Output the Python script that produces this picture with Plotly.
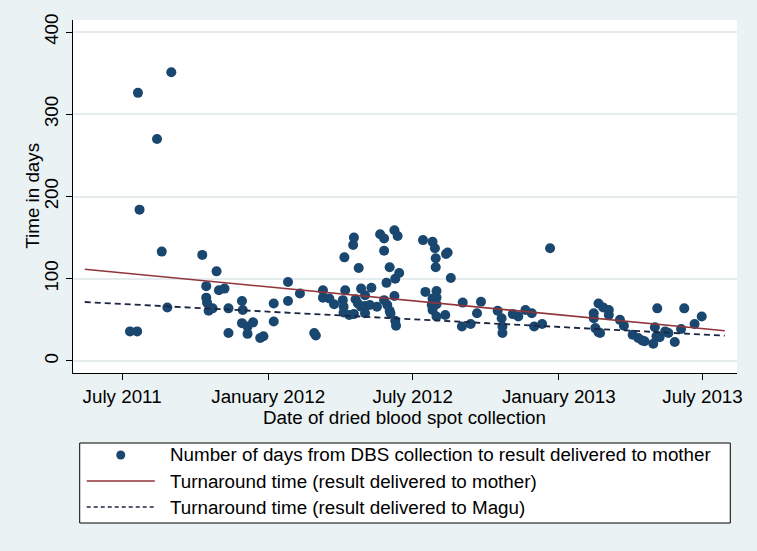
import plotly.graph_objects as go

# ---- data ----
collection_dates = [
    "2011-07-11", "2011-07-20", "2011-07-21", "2011-07-23", "2011-08-14", "2011-08-20",
    "2011-08-27", "2011-09-01", "2011-10-10", "2011-10-15", "2011-10-15", "2011-10-16",
    "2011-10-18", "2011-10-23", "2011-10-28", "2011-10-31", "2011-11-07", "2011-11-12",
    "2011-11-12", "2011-11-29", "2011-11-30", "2011-11-29", "2011-12-06", "2011-12-06",
    "2011-12-13", "2011-12-22", "2011-12-26", "2012-01-08", "2012-01-08", "2012-01-26",
    "2012-01-26", "2012-02-10", "2012-02-28", "2012-03-01", "2012-03-10", "2012-03-10",
    "2012-03-18", "2012-03-24", "2012-04-06", "2012-04-07", "2012-04-04", "2012-04-05",
    "2012-04-05", "2012-04-12", "2012-04-18", "2012-04-18", "2012-04-17", "2012-04-24",
    "2012-04-20", "2012-04-27", "2012-05-10", "2012-04-23", "2012-04-27", "2012-05-02",
    "2012-05-08", "2012-05-17", "2012-05-02", "2012-05-02", "2012-05-21", "2012-05-26",
    "2012-05-26", "2012-06-02", "2012-05-29", "2012-06-09", "2012-06-14", "2012-06-08",
    "2012-06-12", "2012-05-26", "2012-05-30", "2012-06-02", "2012-06-08", "2012-06-09",
    "2012-06-10", "2012-06-03", "2012-07-14", "2012-07-26", "2012-07-29", "2012-07-30",
    "2012-07-30", "2012-08-12", "2012-08-14", "2012-08-18", "2012-07-17", "2012-07-31",
    "2012-07-26", "2012-07-31", "2012-07-31", "2012-07-26", "2012-07-31", "2012-08-11",
    "2012-07-25", "2012-09-02", "2012-09-25", "2012-09-20", "2012-09-01", "2012-09-12",
    "2012-10-16", "2012-10-21", "2012-10-22", "2012-10-22", "2012-11-04", "2012-11-11",
    "2012-11-20", "2012-11-28", "2012-12-01", "2012-12-11", "2012-12-21", "2013-02-14",
    "2013-02-14", "2013-02-20", "2013-02-26", "2013-03-05", "2013-03-05", "2013-02-16",
    "2013-02-20", "2013-02-22", "2013-03-19", "2013-03-24", "2013-04-04", "2013-04-11",
    "2013-04-16", "2013-04-19", "2013-04-30", "2013-05-02", "2013-05-04", "2013-05-08",
    "2013-05-05", "2013-05-15", "2013-05-19", "2013-05-27", "2013-06-04", "2013-06-08",
    "2013-06-21", "2013-06-30",
]
days_to_mother = [
    36, 36, 326, 184, 270, 133,
    65, 351, 129, 91, 77, 71,
    61, 64, 109, 86, 88, 64,
    34, 73, 62, 46, 42, 33,
    47, 28, 30, 70, 48, 96,
    73, 82, 34, 31, 86, 77,
    76, 69, 126, 86, 74, 66,
    59, 56, 57, 150, 141, 113,
    75, 88, 89, 70, 66, 67,
    68, 66, 58, 80, 154, 149,
    134, 114, 95, 100, 107, 159,
    152, 74, 68, 61, 79, 49,
    43, 58, 147, 145, 137, 125,
    114, 130, 132, 101, 84, 85,
    76, 77, 69, 62, 54, 56,
    68, 71, 72, 58, 42, 45,
    61, 52, 42, 34, 57, 54,
    62, 58, 42, 45, 137, 58,
    52, 70, 65, 62, 56, 40,
    35, 34, 50, 43, 32, 28,
    25, 24, 21, 41, 30, 29,
    64, 36, 34, 23, 39, 64,
    45, 54,
]

fit_dates = ["2011-05-15", "2013-07-29"]
fit_mother = [111.5, 36.8]
fit_magu = [71.7, 30.8]

x_tick_dates = ["2011-07-01", "2012-01-01", "2012-07-01", "2013-01-01", "2013-07-01"]
x_tick_labels = ["July 2011", "January 2012", "July 2012", "January 2013", "July 2013"]
y_tick_vals = [0, 100, 200, 300, 400]

x_title = "Date of dried blood spot collection"
y_title = "Time in days"
legend_labels = [
    "Number of days from DBS collection to result delivered to mother",
    "Turnaround time (result delivered to mother)",
    "Turnaround time (result delivered to Magu)",
]

# ---- style ----
NAVY = "#1A476F"
MAROON = "#90353B"
DASH = "#1C2541"
BG = "#EAF2F3"
GRID = "#E4ECEE"
FONT = "Liberation Sans, Arial, sans-serif"
FS = 18.8

fig = go.Figure()
fig.add_trace(go.Scatter(x=collection_dates, y=days_to_mother, mode="markers",
                         marker=dict(color=NAVY, size=10, line=dict(width=0)),
                         name=legend_labels[0], showlegend=False))
fig.add_trace(go.Scatter(x=fit_dates, y=fit_mother, mode="lines",
                         line=dict(color=MAROON, width=1.6),
                         name=legend_labels[1], showlegend=False))
fig.add_trace(go.Scatter(x=fit_dates, y=fit_magu, mode="lines",
                         line=dict(color=DASH, width=1.8, dash="6px,4px"),
                         name=legend_labels[2], showlegend=False))

# plot area geometry (pixels)
L, R, T, B = 73.3, 736.7, 20.0, 373.0
W, H = R - L, B - T

def px(x):
    return (x - L) / W

def py(y):
    return (B - y) / H

shapes = []
# legend box
shapes.append(dict(type="rect", xref="paper", yref="paper",
                   x0=px(80), x1=px(730), y0=py(443), y1=py(523),
                   line=dict(color="black", width=1), fillcolor="white", layer="above"))
# legend marker
shapes.append(dict(type="circle", xref="paper", yref="paper",
                   x0=px(116.5), x1=px(125.5), y0=py(450.5), y1=py(459.5),
                   line=dict(width=0), fillcolor=NAVY))
# legend lines
shapes.append(dict(type="line", xref="paper", yref="paper",
                   x0=px(87), x1=px(155), y0=py(481), y1=py(481),
                   line=dict(color=MAROON, width=1.6)))
shapes.append(dict(type="line", xref="paper", yref="paper",
                   x0=px(87), x1=px(155), y0=py(507), y1=py(507),
                   line=dict(color=DASH, width=1.5, dash="4px,3px")))

annotations = []
for lab, yy in zip(legend_labels, [455, 481, 507]):
    annotations.append(dict(text=lab, xref="paper", yref="paper", x=px(168), y=py(yy),
                            xanchor="left", yanchor="middle", showarrow=False,
                            font=dict(family=FONT, size=FS, color="black")))
# axis titles
annotations.append(dict(text=x_title, xref="paper", yref="paper", x=px(405), y=py(418),
                        xanchor="center", yanchor="middle", showarrow=False,
                        font=dict(family=FONT, size=FS, color="black")))
annotations.append(dict(text=y_title, xref="paper", yref="paper", x=px(32), y=py(196),
                        xanchor="center", yanchor="middle", showarrow=False, textangle=-90,
                        font=dict(family=FONT, size=FS, color="black")))

fig.update_layout(
    width=757, height=551,
    margin=dict(l=L, r=757 - R, t=T, b=551 - B, autoexpand=False),
    paper_bgcolor=BG, plot_bgcolor="white",
    font=dict(family=FONT, size=FS, color="black"),
    showlegend=False,
    shapes=shapes, annotations=annotations,
    xaxis=dict(
        type="date", automargin=False,
        range=["2011-04-30 05:00", "2013-08-13 10:00"],
        tickvals=x_tick_dates, ticktext=x_tick_labels,
        ticks="outside", ticklen=6, tickcolor="black", tickwidth=1,
        showline=True, linecolor="black", linewidth=1.2,
        showgrid=False, zeroline=False,
        tickfont=dict(family=FONT, size=FS, color="black"),
    ),
    yaxis=dict(
        range=[-14.6, 414.6], automargin=False,
        tickvals=y_tick_vals,
        ticks="outside", ticklen=6, tickcolor="black", tickwidth=1,
        tickangle=-90,
        showline=True, linecolor="black", linewidth=1.2,
        showgrid=True, gridcolor=GRID, gridwidth=1.5, zeroline=False,
        tickfont=dict(family=FONT, size=FS, color="black"),
    ),
)

fig.write_html("out.html", config={"displayModeBar": False},
               post_script="document.body.style.margin='0';")
